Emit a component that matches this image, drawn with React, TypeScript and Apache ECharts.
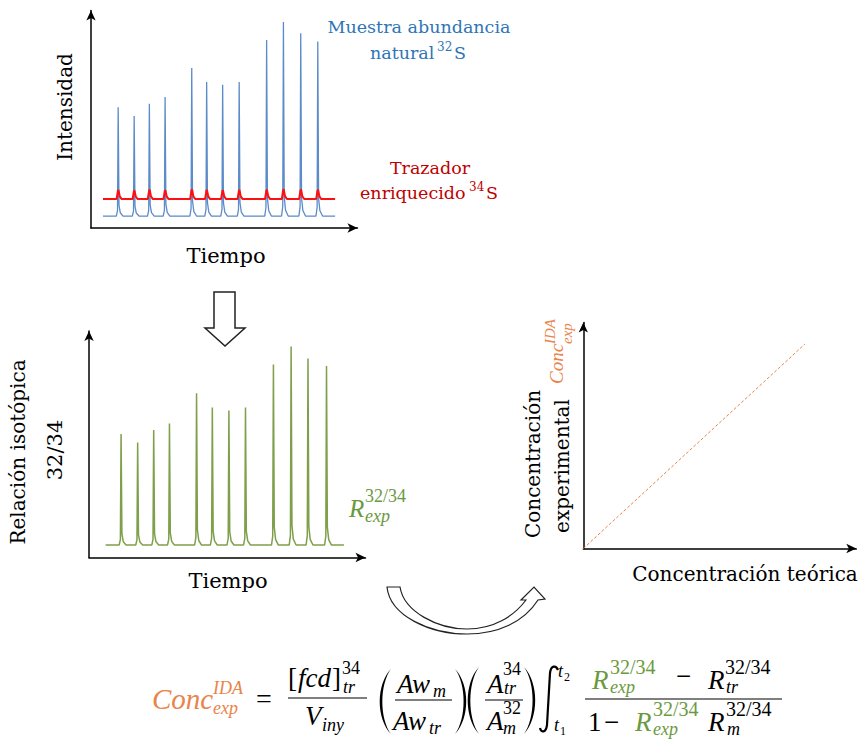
import React, { useEffect, useRef } from 'react';
import * as echarts from 'echarts';

// ---------- data ----------
const topPeakTimes = [10.2, 16.2, 21.9, 27.8, 37.8, 43.4, 49.4, 55.6, 65.9, 72.2, 78.7, 85.1];
const blueHeights = [55.5, 51.5, 57.1, 60.2, 73.6, 67.1, 65.9, 67.1, 86.4, 94.7, 89.5, 85.7];
const blueBase = 5.5;
const redBase = 13.3;
const redBumps = [4.2, 4.0, 4.3, 4.1, 4.4, 4.2, 4.1, 4.2, 4.3, 4.5, 4.4, 4.3];
const topRange = [4.5, 91.6];

const midPeakTimes = [11.6, 17.6, 23.4, 29.1, 38.9, 44.6, 50.6, 56.6, 66.7, 73.1, 79.2, 85.9];
const greenHeights = [54.5, 50.8, 56.3, 59.2, 72.5, 66.2, 64.9, 66.2, 85.2, 93.2, 87.9, 84.5];
const greenBase = 5.5;
const midRange = [6.0, 92.2];

const calX = [0, 81.2];
const calY = [0, 90.5];

// peak shape: [time offset, fraction of height]
const peakProfile: [number, number][] = [[-0.7, 0], [-0.25, 0.05], [0, 1], [0.3, 0.1], [0.8, 0.03], [1.8, 0]];
const bumpProfile: [number, number][] = [[-0.6, 0], [-0.1, 0.9], [0.1, 1], [0.6, 0.3], [1.3, 0]];

function trace(times: number[], heights: number[], base: number, range: number[], profile: [number, number][], relative: boolean) {
  const pts: number[][] = [[range[0], base]];
  times.forEach((t, i) => {
    const amp = relative ? heights[i] : heights[i] - base;
    profile.forEach(([dt, f]) => pts.push([t + dt, base + amp * f]));
  });
  pts.push([range[1], base]);
  return pts;
}

// ---------- shapes ----------
const FONT = 'DejaVu Serif';
const MATH = 'Liberation Serif';
const ORANGE = '#e9844a';
const GREEN = '#6a9a3e';

echarts.graphic.registerShape('parenShape', echarts.graphic.extendPath('M10,0 C-5,15 -5,48 10,63 C-1.5,48 -1.5,15 10,0 Z', {}) as any);
echarts.graphic.registerShape('integralShape', echarts.graphic.extendPath('M18,5 C16,0 11,0 10,8 L7,60 C6,68 1,68 0,63', {}) as any);
echarts.graphic.registerShape('curveArrow', echarts.graphic.extendPath('M387,587 L400,587 C404,612 438,629 467,629 C494,629 514,616 526,600 L521,600 L534,587 L545,599 L538,600 C524,622 498,634 467,634 C430,634 390,616 387,587 Z', {}) as any);

function tx(text: string, x: number, base: number, size: number, color = '#000', italic = false, family = MATH): any {
  return {
    type: 'text', x, y: base - 0.34 * size, silent: true,
    style: { text, fontSize: size, fontFamily: family, fontStyle: italic ? 'italic' : 'normal', fill: color, align: 'left', verticalAlign: 'middle' },
  };
}
function ctext(text: string, x: number, y: number, size: number, color = '#000', rot = 0): any {
  return {
    type: 'text', x, y, rotation: rot, silent: true,
    style: { text, fontSize: size, fontFamily: FONT, fill: color, align: 'center', verticalAlign: 'middle' },
  };
}
function bar(x1: number, x2: number, y: number): any {
  return { type: 'line', shape: { x1, y1: y, x2, y2: y }, style: { stroke: '#000', lineWidth: 1.2 }, silent: true };
}
function paren(x: number, y: number, h: number, right = false): any {
  return { type: 'parenShape', x, y, scaleX: right ? -1 : 1, scaleY: h / 63, style: { fill: '#000' }, silent: true };
}

function axis(gridIndex: number): any {
  return {
    type: 'value', gridIndex, min: 0, max: 100,
    axisLine: { show: true, onZero: false, symbol: ['none', 'arrow'], symbolSize: [7, 10], lineStyle: { color: '#000', width: 1.5 } },
    axisTick: { show: false }, axisLabel: { show: false }, splitLine: { show: false },
  };
}

export default function App() {
  const ref = useRef<HTMLDivElement>(null);
  useEffect(() => {
    const chart = echarts.init(ref.current!, null, { renderer: 'svg' });
    const blue = trace(topPeakTimes, blueHeights, blueBase, topRange, peakProfile, false);
    const red = trace(topPeakTimes, redBumps, redBase, topRange, bumpProfile, true);
    const green = trace(midPeakTimes, greenHeights, greenBase, midRange, peakProfile, false);
    const cal = calX.map((x, i) => [x, calY[i]]);
    const BLUE_T = '#2e75b6';
    const RED_T = '#c00000';

    const graphic: any[] = [
      // top chart labels
      ctext('Intensidad', 65, 107, 20, '#000', Math.PI / 2),
      ctext('Tiempo', 226, 256, 21),
      ctext('Muestra abundancia', 419, 27, 17.5, BLUE_T),
      tx('natural', 370, 59, 17.5, BLUE_T, false, FONT),
      tx('32', 437, 51, 12, BLUE_T, false, FONT),
      tx('S', 454, 59, 17.5, BLUE_T, false, FONT),
      ctext('Trazador', 430, 168, 17.5, RED_T),
      tx('enriquecido', 360, 199, 17.5, RED_T, false, FONT),
      tx('34', 469, 191, 12, RED_T, false, FONT),
      tx('S', 486, 199, 17.5, RED_T, false, FONT),
      // down arrow
      { type: 'polygon', shape: { points: [[214, 292], [235, 292], [235, 328], [245, 328], [225, 346], [205, 328], [214, 328]] }, style: { fill: '#fff', stroke: '#222', lineWidth: 1.5 }, silent: true },
      // middle chart labels
      ctext('Relación isotópica', 18, 452, 20, '#000', Math.PI / 2),
      ctext('32/34', 55, 450, 21, '#000', Math.PI / 2),
      ctext('Tiempo', 228, 581, 21),
      tx('R', 349, 517, 25, GREEN, true),
      tx('32/34', 365, 502, 18, GREEN),
      tx('exp', 365, 522, 18, GREEN, true),
      // right chart labels
      ctext('Concentración', 533, 464, 20, '#000', Math.PI / 2),
      ctext('experimental', 562, 466, 20, '#000', Math.PI / 2),
      {
        type: 'group', x: 563, y: 384, rotation: Math.PI / 2,
        children: [tx('Conc', 0, 0, 19, ORANGE, true), tx('IDA', 40, -8, 15, ORANGE, true), tx('exp', 40, 9, 15, ORANGE, true)],
      },
      ctext('Concentración teórica', 745, 574, 20),
      // curved arrow
      { type: 'curveArrow', x: 0, y: 0, style: { fill: '#fff', stroke: '#222', lineWidth: 1.2 }, silent: true },
      // formula
      tx('Conc', 152, 709, 29, ORANGE, true),
      tx('IDA', 213, 694, 18, ORANGE, true),
      tx('exp', 213, 714, 18, ORANGE, true),
      tx('=', 256, 708, 28),
      tx('[', 288, 687, 27),
      tx('fcd', 298, 687, 27, '#000', true),
      tx(']', 332, 687, 27),
      tx('34', 342, 674, 18),
      tx('tr', 343, 693, 18, '#000', true),
      bar(288, 367, 698),
      tx('V', 305, 725, 27, '#000', true),
      tx('iny', 322, 731, 18, '#000', true),
      paren(381, 669, 65),
      tx('Aw', 397, 693, 27, '#000', true),
      tx('m', 433, 697, 18, '#000', true),
      bar(395, 452, 700),
      tx('Aw', 393, 730, 27, '#000', true),
      tx('tr', 429, 734, 18, '#000', true),
      paren(465, 669, 65, true),
      paren(469, 667, 67),
      tx('A', 487, 693, 27, '#000', true),
      tx('34', 503, 675, 18),
      tx('tr', 504, 694, 18, '#000', true),
      bar(485, 523, 700),
      tx('A', 487, 730, 27, '#000', true),
      tx('32', 503, 714, 18),
      tx('m', 503, 734, 18, '#000', true),
      paren(534, 667, 67, true),
      { type: 'integralShape', x: 540, y: 665, style: { fill: 'none', stroke: '#000', lineWidth: 2.2 }, silent: true },
      tx('t', 558, 677, 18, '#000', true),
      tx('2', 564, 681, 12),
      tx('t', 554, 731, 18, '#000', true),
      tx('1', 560, 735, 12),
      tx('R', 592, 689, 27, GREEN, true),
      tx('32/34', 610, 674, 20, GREEN),
      tx('exp', 610, 693, 18, GREEN, true),
      tx('−', 676, 685, 27),
      tx('R', 708, 689, 27, '#000', true),
      tx('32/34', 725, 674, 20),
      tx('tr', 726, 693, 18, '#000', true),
      bar(585, 782, 699),
      tx('1', 588, 731, 27),
      tx('−', 604, 731, 27),
      tx('R', 635, 731, 27, GREEN, true),
      tx('32/34', 653, 716, 20, GREEN),
      tx('exp', 653, 735, 18, GREEN, true),
      tx('R', 708, 731, 27, '#000', true),
      tx('32/34', 726, 716, 20),
      tx('m', 727, 735, 18, '#000', true),
    ];

    chart.setOption({
      animation: false,
      grid: [
        { left: 91, top: 10.5, width: 266.5, height: 217.5 },
        { left: 89, top: 331, width: 276.5, height: 226.5 },
        { left: 583.3, top: 322.5, width: 273, height: 226 },
      ],
      xAxis: [axis(0), axis(1), axis(2)],
      yAxis: [axis(0), axis(1), axis(2)],
      series: [
        { type: 'line', xAxisIndex: 0, yAxisIndex: 0, data: blue, showSymbol: false, silent: true, lineStyle: { color: '#5b8bc8', width: 1.3 }, z: 2 },
        { type: 'line', xAxisIndex: 0, yAxisIndex: 0, data: red, showSymbol: false, silent: true, lineStyle: { color: '#ff1010', width: 2 }, z: 3 },
        { type: 'line', xAxisIndex: 1, yAxisIndex: 1, data: green, showSymbol: false, silent: true, lineStyle: { color: '#7f9f4a', width: 1.5 }, z: 2 },
        { type: 'line', xAxisIndex: 2, yAxisIndex: 2, data: cal, showSymbol: false, silent: true, lineStyle: { color: ORANGE, width: 1, type: [3, 2] }, z: 2 },
      ],
      graphic,
    });
    return () => chart.dispose();
  }, []);
  return <div ref={ref} style={{ position: 'fixed', left: 0, top: 0, width: 861, height: 742, background: '#fff' }} />;
}
